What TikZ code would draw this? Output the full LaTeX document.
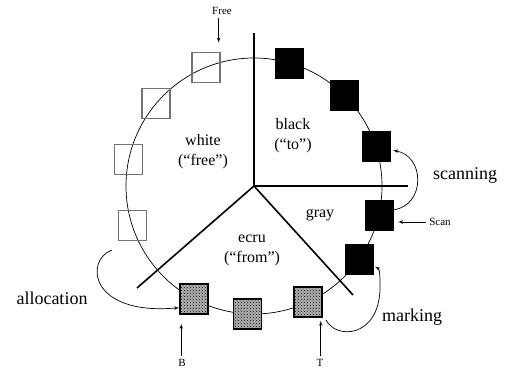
\documentclass[tikz,border=0pt]{standalone}
\usepackage{fontspec}
\setmainfont{Liberation Serif}
\usepackage{tikz}
\usetikzlibrary{arrows, positioning, calc, patterns}
\tikzstyle{cell} = [draw, rectangle, minimum width=28pt, minimum height=30pt, inner sep=0pt]
\tikzstyle{whitecell} = [cell, draw=black!55, line width=1.2pt]
\tikzstyle{blackcell} = [cell, fill=black, draw=black]
\tikzstyle{graycell} = [cell, fill=black, draw=black]
\tikzstyle{ecrucell} = [cell, preaction={fill=black!30}, pattern=crosshatch dots, draw=black, line width=1.4pt]
\tikzstyle{region} = [align=center, font=\fontsize{16}{20}\selectfont]
\tikzstyle{phase} = [font=\fontsize{18}{20}\selectfont]
\tikzstyle{pointer} = [font=\fontsize{11}{12}\selectfont]
\tikzstyle{divider} = [draw, line width=1.6pt]
\tikzstyle{arrow} = [draw, -latex', line width=0.7pt]

\begin{document}
\begin{tikzpicture}[x=1pt, y=1pt, >=latex']
    \useasboundingbox (0,0) rectangle (511,370);
    \coordinate (O) at (254,184);

    % Heap ring
    \draw[line width=0.7pt] (O) circle [radius=128pt];

    % Region borders
    \coordinate (top) at (254,337);
    \coordinate (east) at (408,184);
    \coordinate (southwest) at (137,82);
    \coordinate (southeast) at (353,75);
    \draw [divider] (O) -- (top);
    \draw [divider] (O) -- (east);
    \draw [divider] (O) -- (southwest);
    \draw [divider] (O) -- (southeast);

    % Draw cells
    \foreach \a/\n in {112/w1, 140/w2, 168/w3, 198/w4}
        \node (\n) [whitecell] at ($(O)+(\a:128pt)$) {};
    \foreach \a/\n in {74/k1, 45/k2, 18/k3}
        \node (\n) [blackcell] at ($(O)+(\a:128pt)$) {};
    \foreach \a/\n in {347/g1, 325/g2}
        \node (\n) [graycell] at ($(O)+(\a:128pt)$) {};
    \foreach \a/\n in {242/e1, 267/e2, 295/e3}
        \node (\n) [ecrucell] at ($(O)+(\a:128pt)$) {};

    % Region names
    \node (white_lbl) [region] at (203,218) {white\\(``free'')};
    \node (black_lbl) [region] at (293,234) {black\\(``to'')};
    \node (gray_lbl) [region] at (320,155) {gray};
    \node (ecru_lbl) [region] at (252,120) {ecru\\(``from'')};

    % Phases
    \node (scanning) [phase] at (465,195) {scanning};
    \node (allocation) [phase] at (52,72) {allocation};
    \node (marking) [phase] at (412,53) {marking};

    % Pointers
    \node (free_lbl) [pointer] at (222,359) {Free};
    \node (scan_lbl) [pointer] at (440,148) {Scan};
    \node (b_lbl) [pointer] at (182,7) {B};
    \node (t_lbl) [pointer] at (320,7) {T};

    \coordinate (free_tip) at ([shift={(-2pt,9pt)}]w1.north east);
    \coordinate (scan_tip) at ([xshift=5pt]scan_lbl.west -| g1.east);
    \coordinate (b_tip) at ([shift={(2pt,-9pt)}]e1.south west);
    \coordinate (t_tip) at ([shift={(-2pt,-3pt)}]e3.south east);

    \draw [arrow] (free_tip |- free_lbl.south) -- (free_tip);
    \draw [arrow] (scan_lbl.west) -- (scan_tip);
    \draw [arrow] (b_tip |- b_lbl.north) -- (b_tip);
    \draw [arrow] (t_tip |- t_lbl.north) -- (t_tip);

    % Curved arrows
    \coordinate (alloc_start) at ([shift={(-6pt,-9pt)}]w4.south west);
    \draw [arrow] (alloc_start) .. controls +(-27,-10) and +(-90,-8) .. ([yshift=7pt]e1.south west);

    \coordinate (mark_start) at ([shift={(3pt,-2pt)}]e3.south east);
    \coordinate (mark_bend) at (380,80);
    \draw [arrow] (mark_start) .. controls +(10,-20) and +(-2,-48) .. (mark_bend)
        .. controls +(0,15) and +(5,-3) .. ([shift={(2pt,8pt)}]g2.south east);

    \coordinate (scan_start) at ([shift={(1pt,5pt)}]g1.east);
    \draw [arrow] (scan_start) .. controls +(32,5) and +(32,-5) .. ([shift={(3pt,-4pt)}]k3.east);
\end{tikzpicture}
\end{document}
